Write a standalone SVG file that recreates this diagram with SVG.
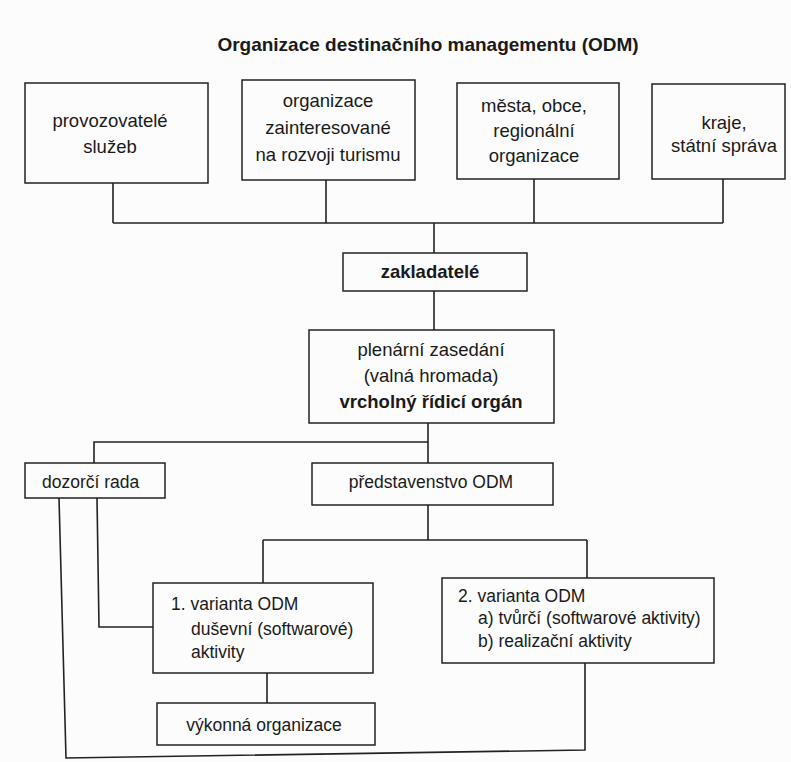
<svg xmlns="http://www.w3.org/2000/svg" width="791" height="762" viewBox="0 0 791 762">
<style>
.bg{fill:#fcfcfc}
.box{fill:none;stroke:#222;stroke-width:1.5}
.ln{fill:none;stroke:#222;stroke-width:1.6;stroke-linejoin:miter}
text{font-family:"Liberation Sans",Arial,sans-serif;fill:#1a1a1a}
.t1{font-size:18.5px;text-anchor:middle}
.t2{font-size:17.5px}
.c{text-anchor:middle}
.b{font-weight:bold}
</style>
<rect class="bg" x="0" y="0" width="791" height="762"/>
<text id="title" x="428" y="51" class="b" style="font-size:19px;text-anchor:middle">Organizace destinačního managementu (ODM)</text>
<g id="connectors">
<path class="ln" d="M113,183 V223 M326,180 V223 M534,179 V223 M723,179 V223 M113,223 H723"/>
<path class="ln" d="M434,223 V253"/>
<path class="ln" d="M434,291 V330"/>
<path class="ln" d="M428,423 V463 M428,442 H94 V463"/>
<path class="ln" d="M428,505 V540 M263,540 H587 M263,540 V583 M587,540 V578"/>
<path class="ln" d="M97,498 L99,627 H153"/>
<path class="ln" d="M267,673 V703"/>
<path class="ln" d="M59,498 L66,758 L585,750 V663"/>
</g>
<g id="n1"><rect class="box" x="25" y="83" width="183" height="100"/>
<text class="t1" x="110" y="127">provozovatelé</text><text class="t1" x="110" y="153">služeb</text></g>
<g id="n2"><rect class="box" x="242" y="80" width="173" height="100"/>
<text class="t1" x="328" y="107">organizace</text><text class="t1" x="328" y="134">zainteresované</text><text class="t1" x="328" y="161">na rozvoji turismu</text></g>
<g id="n3"><rect class="box" x="457" y="83" width="162" height="96"/>
<text class="t1" x="534" y="112">města, obce,</text><text class="t1" x="534" y="137">regionální</text><text class="t1" x="534" y="162">organizace</text></g>
<g id="n4"><rect class="box" x="652" y="84" width="133" height="95"/>
<text class="t1" x="724" y="129">kraje,</text><text class="t1" x="724" y="152">státní správa</text></g>
<g id="zakladatele"><rect class="box" x="343" y="253" width="184" height="38"/>
<text class="t1 b" x="430" y="278">zakladatelé</text></g>
<g id="plenarni"><rect class="box" x="309" y="330" width="245" height="93"/>
<text class="t1" x="431" y="356">plenární zasedání</text><text class="t1" x="431" y="382">(valná hromada)</text><text class="t1 b" x="431" y="408">vrcholný řídicí orgán</text></g>
<g id="dozorci"><rect class="box" x="25" y="463" width="140" height="35"/>
<text class="t2" x="42" y="488">dozorčí rada</text></g>
<g id="predstavenstvo"><rect class="box" x="312" y="463" width="241" height="42"/>
<text class="t2 c" x="431" y="488">představenstvo ODM</text></g>
<g id="varianta1"><rect class="box" x="153" y="583" width="220" height="90"/>
<text class="t2" x="171" y="610">1. varianta ODM</text><text class="t2" x="191" y="635">duševní (softwarové)</text><text class="t2" x="191" y="658">aktivity</text></g>
<g id="varianta2"><rect class="box" x="442" y="578" width="272" height="85"/>
<text class="t2" x="458" y="602">2. varianta ODM</text><text class="t2" x="478" y="624">a) tvůrčí (softwarové aktivity)</text><text class="t2" x="478" y="647">b) realizační aktivity</text></g>
<g id="vykonna"><rect class="box" x="157" y="703" width="218" height="42"/>
<text class="t2 c" x="264" y="731">výkonná organizace</text></g>
</svg>
